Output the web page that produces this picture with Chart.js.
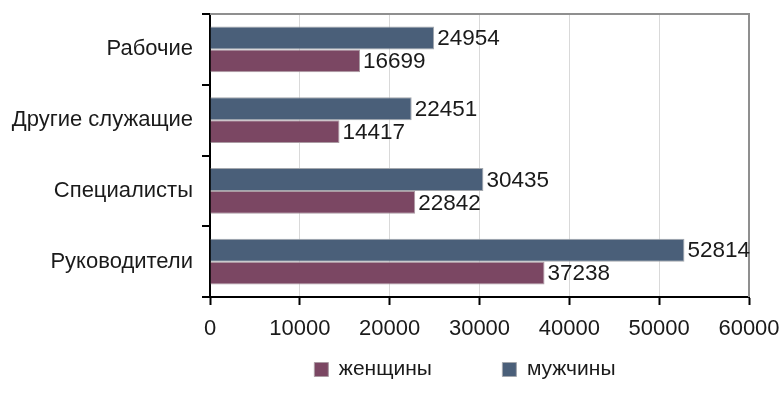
<!DOCTYPE html>
<html lang="ru">
<head>
  <meta charset="UTF-8" />
  <title>Мужчины и женщины по группам занятий</title>
  <script src="https://cdn.jsdelivr.net/npm/chart.js"></script>
  <style>
    html, body { margin: 0; padding: 0; background: #fff; }
    #wrap { width: 782px; height: 408px; position: relative; }
  </style>
</head>
<body>
  <div id="wrap"><canvas id="chart"></canvas></div>

  <script>
    const categories = ["Рабочие", "Другие служащие", "Специалисты", "Руководители"];
    const men = [24954, 22451, 30435, 52814];
    const women = [16699, 14417, 22842, 37238];
    const xTicks = [0, 10000, 20000, 30000, 40000, 50000, 60000];

    const FONT = "'Liberation Sans', Arial, sans-serif";

    // value labels right of each bar
    const valueLabels = {
      id: 'valueLabels',
      afterDatasetsDraw(chart) {
        const ctx = chart.ctx;
        ctx.save();
        ctx.font = `22.5px ${FONT}`;
        ctx.fillStyle = '#1a1a1a';
        ctx.textBaseline = 'middle';
        ctx.textAlign = 'left';
        chart.data.datasets.forEach((ds, i) => {
          chart.getDatasetMeta(i).data.forEach((bar, j) => {
            ctx.fillText(String(ds.data[j]), bar.x + 3, bar.y + 1);
          });
        });
        ctx.restore();
      }
    };

    // gray top and right edges of the plot frame
    const plotFrame = {
      id: 'plotFrame',
      beforeDatasetsDraw(chart) {
        const { ctx, chartArea: a } = chart;
        ctx.save();
        ctx.strokeStyle = '#8f8f8f';
        ctx.lineWidth = 2;
        ctx.beginPath();
        ctx.moveTo(a.left, a.top);
        ctx.lineTo(a.right, a.top);
        ctx.lineTo(a.right, a.bottom);
        ctx.stroke();
        ctx.restore();
      }
    };

    const legendGen = Chart.defaults.plugins.legend.labels.generateLabels;
    const legendPad = { 'женщины': '         ', 'мужчины': '     ' };

    new Chart(document.getElementById('chart'), {
      type: 'bar',
      data: {
        labels: categories,
        datasets: [
          { label: 'мужчины', data: men, backgroundColor: '#4a5f79', borderColor: '#a3a7ad', borderWidth: 1 },
          { label: 'женщины', data: women, backgroundColor: '#7b4763', borderColor: '#ab9ba3', borderWidth: 1 }
        ]
      },
      options: {
        indexAxis: 'y',
        responsive: true,
        maintainAspectRatio: false,
        animation: false,
        layout: { padding: { top: 14, right: 33, left: 0, bottom: 18 } },
        datasets: { bar: { categoryPercentage: 0.65, barPercentage: 1 } },
        plugins: {
          tooltip: { enabled: false },
          legend: {
            position: 'bottom',
            fullSize: false,
            reverse: true,
            labels: {
              boxWidth: 14,
              boxHeight: 14,
              padding: 18,
              color: '#1a1a1a',
              font: { family: FONT, size: 21 },
              // spacing between the two entries, as in the original
              generateLabels: chart => legendGen(chart).map(it =>
                Object.assign(it, { text: it.text + (legendPad[it.text] || '') }))
            }
          }
        },
        scales: {
          x: {
            min: 0,
            max: 60000,
            afterBuildTicks: s => { s.ticks = xTicks.map(v => ({ value: v })); },
            afterFit: s => { s.height = 44; s.paddingLeft = 0; s.paddingRight = 0; },
            grid: { color: '#d9d9d9', tickColor: '#000', tickLength: 8, tickWidth: 2 },
            border: { color: '#000', width: 2 },
            ticks: {
              color: '#1a1a1a',
              padding: 11,
              font: { family: FONT, size: 22 },
              callback: v => String(v)
            }
          },
          y: {
            afterFit: s => { s.width = 210; s.paddingTop = 0; s.paddingBottom = 0; },
            grid: { offset: true, drawOnChartArea: false, color: '#000', tickLength: 8, lineWidth: 2 },
            border: { color: '#000', width: 2 },
            ticks: { color: '#1a1a1a', padding: 9, font: { family: FONT, size: 22 } }
          }
        }
      },
      plugins: [valueLabels, plotFrame]
    });
  </script>
</body>
</html>
